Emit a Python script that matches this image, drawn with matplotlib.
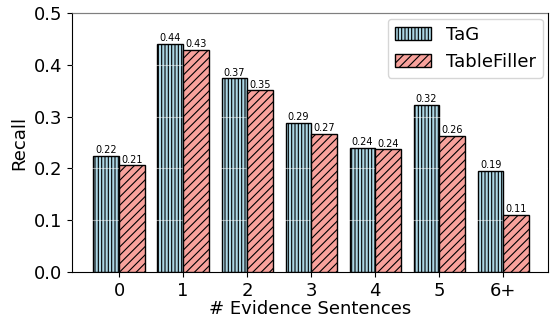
import numpy as np
import matplotlib
matplotlib.use("Agg")
import matplotlib.pyplot as plt

# dados
categorias = ['0', '1', '2', '3', '4', '5', '6+']
recall_tag = [0.224, 0.441, 0.374, 0.288, 0.240, 0.323, 0.195]
recall_tablefiller = [0.206, 0.429, 0.351, 0.267, 0.237, 0.263, 0.111]
rotulos_tag = ['0.22', '0.44', '0.37', '0.29', '0.24', '0.32', '0.19']
rotulos_tf = ['0.21', '0.43', '0.35', '0.27', '0.24', '0.26', '0.11']

plt.rcParams['hatch.linewidth'] = 0.8
fig, ax = plt.subplots(figsize=(5.51, 3.2), dpi=100)

x = np.arange(len(categorias))
w = 0.4
b1 = ax.bar(x - w/2, recall_tag, w, color='lightblue', edgecolor='black',
            hatch='|||||', label='TaG', linewidth=1, zorder=2)
b2 = ax.bar(x + w/2, recall_tablefiller, w, color='#f8a29c', edgecolor='black',
            hatch='////', label='TableFiller', linewidth=1, zorder=3)

# linhas de grade claras (so aparecem sobre as barras azuis)
ax.set_axisbelow(False)
ax.yaxis.grid(True, color='white', alpha=0.5, linewidth=0.8)

ax.bar_label(b1, labels=rotulos_tag, fontsize=7, padding=0.5)
ax.bar_label(b2, labels=rotulos_tf, fontsize=7, padding=0.5)

ax.set_ylim(0, 0.5)
ax.set_xlim(-0.74, 6.70)
ax.set_xticks(x)
ax.set_xticklabels(categorias)
ax.tick_params(labelsize=13)
ax.set_ylabel('Recall', fontsize=13)
ax.set_xlabel('# Evidence Sentences', fontsize=13, labelpad=0)
ax.legend(fontsize=13, loc='upper right', borderaxespad=0.3)

plt.subplots_adjust(left=0.13, right=0.995, top=0.959, bottom=0.15)
plt.savefig('out.png')
